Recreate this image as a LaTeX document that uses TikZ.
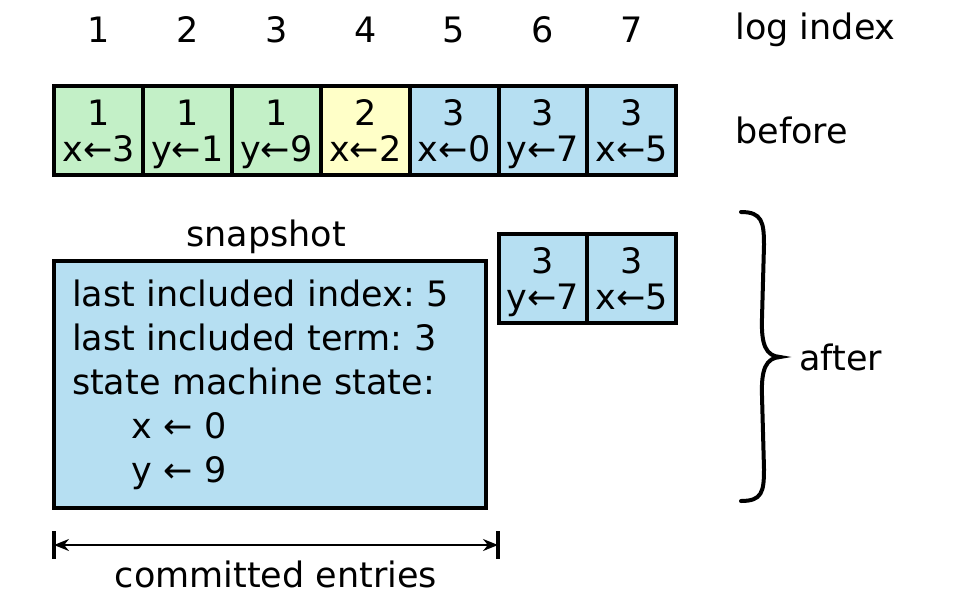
\documentclass[tikz,border=0pt]{standalone}
\usepackage{fontspec}
\setmainfont{DejaVu Sans}
\usetikzlibrary{positioning,arrows.meta,calc}
\definecolor{oldterm}{RGB}{195,240,199}
\definecolor{midterm}{RGB}{255,255,200}
\definecolor{newterm}{RGB}{182,223,242}
\frenchspacing
\newcommand{\logentry}[2]{\rule{0pt}{18.5pt}#1\\#2\strut}

\begin{document}
\begin{tikzpicture}[x=0.5pt, y=-0.5pt,
    every node/.style={font=\fontsize{17.5}{18}\selectfont},
    entry/.style={draw, line width=2pt, minimum width=44.45pt, minimum height=44.5pt,
                  inner sep=0pt, align=center},
    lbl/.style={inner sep=0pt},
    brace/.style={line width=2pt, line cap=round},
    dimarr/.style={{Stealth[length=7.5pt,width=6pt]}-{Stealth[length=7.5pt,width=6pt]}, line width=1pt},
    dimbar/.style={line width=2.2pt}
  ]
  \useasboundingbox (0,0) rectangle (958,596);

  % ===== log index row =====
  \node[lbl] (i1) at (99,30)  {1};
  \node[lbl] (i2) at (188,30) {2};
  \node[lbl] (i3) at (277,30) {3};
  \node[lbl] (i4) at (366,30) {4};
  \node[lbl] (i5) at (454,30) {5};
  \node[lbl] (i6) at (543,30) {6};
  \node[lbl] (i7) at (632,30) {7};
  \node[lbl, anchor=west] (idxlbl) at (735,30) {log index};

  % ===== log before compaction =====
  \node[entry, fill=oldterm] (b1) at (98.5,130.5)  {\logentry{1}{x←3}};
  \node[entry, fill=oldterm] (b2) at (187.4,130.5) {\logentry{1}{y←1}};
  \node[entry, fill=oldterm] (b3) at (276.3,130.5) {\logentry{1}{y←9}};
  \node[entry, fill=midterm] (b4) at (365.2,130.5) {\logentry{2}{x←2}};
  \node[entry, fill=newterm] (b5) at (454.1,130.5) {\logentry{3}{x←0}};
  \node[entry, fill=newterm] (b6) at (543,130.5)   {\logentry{3}{y←7}};
  \node[entry, fill=newterm] (b7) at (631.9,130.5) {\logentry{3}{x←5}};
  \node[lbl, anchor=west] (beforelbl) at (735,130) {before};

  % ===== log after compaction =====
  \node[entry, fill=newterm] (a6) at (543,278)   {\logentry{3}{y←7}};
  \node[entry, fill=newterm] (a7) at (631.9,278) {\logentry{3}{x←5}};

  \node[draw, line width=2pt, fill=newterm, minimum width=216pt, minimum height=123.5pt,
        text width=198pt, inner xsep=9pt, align=left,
        font=\fontsize{17.5}{22}\selectfont] (snap) at (270,384.5) {%
    last included index: 5\\
    last included term: 3\\
    state machine state:\\
    \hspace*{29.5pt}x ← 0\\
    \hspace*{29.5pt}y ← 9};
  \node[lbl] (snaplbl) at (266,237) {snapshot};

  % ===== brace =====
  \draw[brace] (741,212) .. controls (762,212) and (764,222) .. (764,245)
    -- (762,318) .. controls (761,345) and (766,356) .. (780,357)
    .. controls (766,358) and (761,369) .. (762,396)
    -- (764,469) .. controls (764,492) and (762,501) .. (741,501);
  \node[lbl, anchor=west] (afterlbl) at (799,357) {after};

  % ===== committed entries =====
  \coordinate (cl) at (54,545);
  \coordinate (cr) at (498,545);
  \draw[dimbar] ([yshift=7pt]cl) -- ([yshift=-7pt]cl);
  \draw[dimbar] ([yshift=7pt]cr) -- ([yshift=-7pt]cr);
  \draw[dimarr] (cl) -- (cr);
  \node[lbl] (commitlbl) at (276,574) {committed entries};
\end{tikzpicture}
\end{document}
